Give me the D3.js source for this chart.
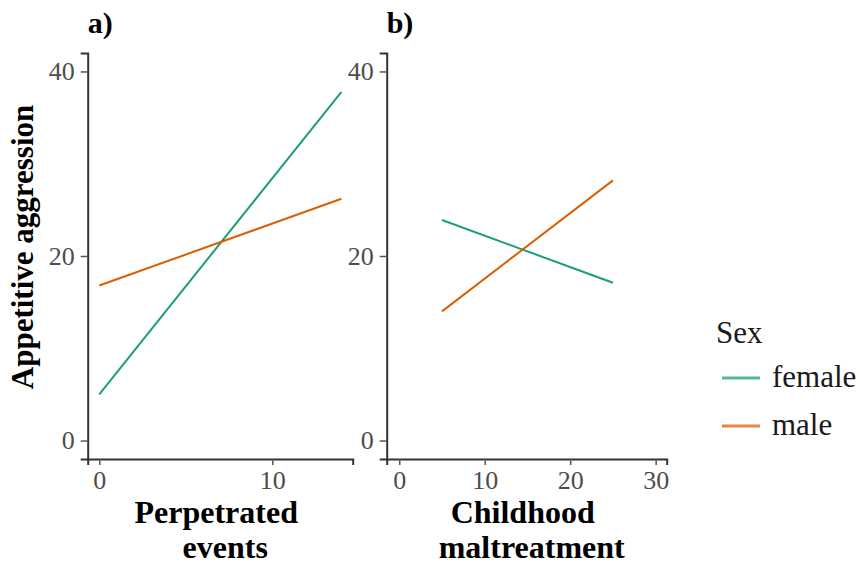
<!DOCTYPE html>
<html>
<head>
<meta charset="utf-8">
<script src="https://cdn.jsdelivr.net/npm/d3@7"></script>
<style>
  body { margin: 0; background: #fff; }
  text { font-family: "Liberation Serif", "Times New Roman", serif; }
</style>
</head>
<body>
<div id="chart"></div>
<script>
// data: fitted lines, start and end point per sex
const sexes = ["female", "male"];
const colours = ["#1b9e77", "#d95f02"];

const perpX = [0, 14];
const perpFemale = [5.0, 37.8];
const perpMale = [16.8, 26.2];

const maltX = [5, 25];
const maltFemale = [23.9, 17.1];
const maltMale = [14.0, 28.2];

const yTicks = [0, 20, 40];
const perpTicks = [0, 10];
const maltTicks = [0, 10, 20, 30];

const width = 861, height = 567;

const svg = d3.select("#chart")
  .append("svg")
  .attr("width", width)
  .attr("height", height);

const color = d3.scaleOrdinal().domain(sexes).range(colours);

const y = d3.scaleLinear().domain([-2, 42]).range([459, 53]);

function panel(opts) {
  const x = d3.scaleLinear().domain(opts.xDomain).range(opts.xRange);
  const g = svg.append("g");

  // lines
  const series = [
    { sex: "female", vals: opts.female },
    { sex: "male", vals: opts.male }
  ];
  const line = d3.line()
    .x((d, i) => x(opts.xs[i]))
    .y(d => y(d));
  g.selectAll("path.fit")
    .data(series)
    .join("path")
      .attr("class", "fit")
      .attr("d", d => line(d.vals))
      .attr("fill", "none")
      .attr("stroke", d => color(d.sex))
      .attr("stroke-width", 2);

  // y axis
  const ya = g.append("g")
    .attr("transform", `translate(${opts.xRange[0]},0)`)
    .call(d3.axisLeft(y).tickValues(yTicks).tickSize(7).tickPadding(6));
  // x axis
  const xa = g.append("g")
    .attr("transform", `translate(0,${y.range()[0]})`)
    .call(d3.axisBottom(x).tickValues(opts.ticks).tickSize(6).tickPadding(6));

  [ya, xa].forEach(a => {
    a.select(".domain").attr("stroke", "#333").attr("stroke-width", 2);
    a.selectAll(".tick line").attr("stroke", "#555").attr("stroke-width", 1.5);
    a.selectAll(".tick text")
      .attr("fill", "#4d4d4d")
      .style("font-size", "26px")
      .style("font-family", "'Liberation Serif', serif");
  });

  // panel tag
  g.append("text")
    .attr("x", opts.xRange[0])
    .attr("y", 33)
    .style("font-size", "30px")
    .style("font-weight", "bold")
    .text(opts.tag);

  // x title (two lines, second sits a little to the right)
  const cx = (opts.xRange[0] + opts.xRange[1]) / 2;
  const shift = [-4, 5];
  g.append("text")
    .attr("y", 523)
    .attr("text-anchor", "middle")
    .style("font-size", "32px")
    .style("font-weight", "bold")
    .selectAll("tspan")
    .data(opts.title)
    .join("tspan")
      .attr("x", (d, i) => cx + shift[i])
      .attr("dy", (d, i) => i ? 35 : 0)
      .text(d => d);
}

panel({
  tag: "a)", xs: perpX, female: perpFemale, male: perpMale,
  xDomain: [-0.67, 14.65], xRange: [87.7, 352.7], ticks: perpTicks,
  title: ["Perpetrated", "events"]
});
panel({
  tag: "b)", xs: maltX, female: maltFemale, male: maltMale,
  xDomain: [-1.47, 31.29], xRange: [386.7, 666.7], ticks: maltTicks,
  title: ["Childhood", "maltreatment"]
});

// y title
svg.append("text")
  .attr("transform", `translate(33,247) rotate(-90)`)
  .attr("text-anchor", "middle")
  .style("font-size", "31px")
  .style("font-weight", "bold")
  .text("Appetitive aggression");

// legend
const legend = svg.append("g").attr("transform", "translate(716,0)");
legend.append("text")
  .attr("x", 0).attr("y", 343)
  .style("font-size", "31px")
  .attr("fill", "#1a1a1a")
  .text("Sex");
const items = legend.selectAll("g.item")
  .data(sexes)
  .join("g")
    .attr("class", "item")
    .attr("transform", (d, i) => `translate(0,${378 + i * 48})`);
items.append("line")
  .attr("x1", 6).attr("x2", 44)
  .attr("stroke", d => color(d))
  .attr("stroke-width", 3)
  .attr("stroke-opacity", 0.75);
items.append("text")
  .attr("x", 56).attr("y", 9)
  .style("font-size", "31px")
  .attr("fill", "#1a1a1a")
  .text(d => d);
</script>
</body>
</html>
